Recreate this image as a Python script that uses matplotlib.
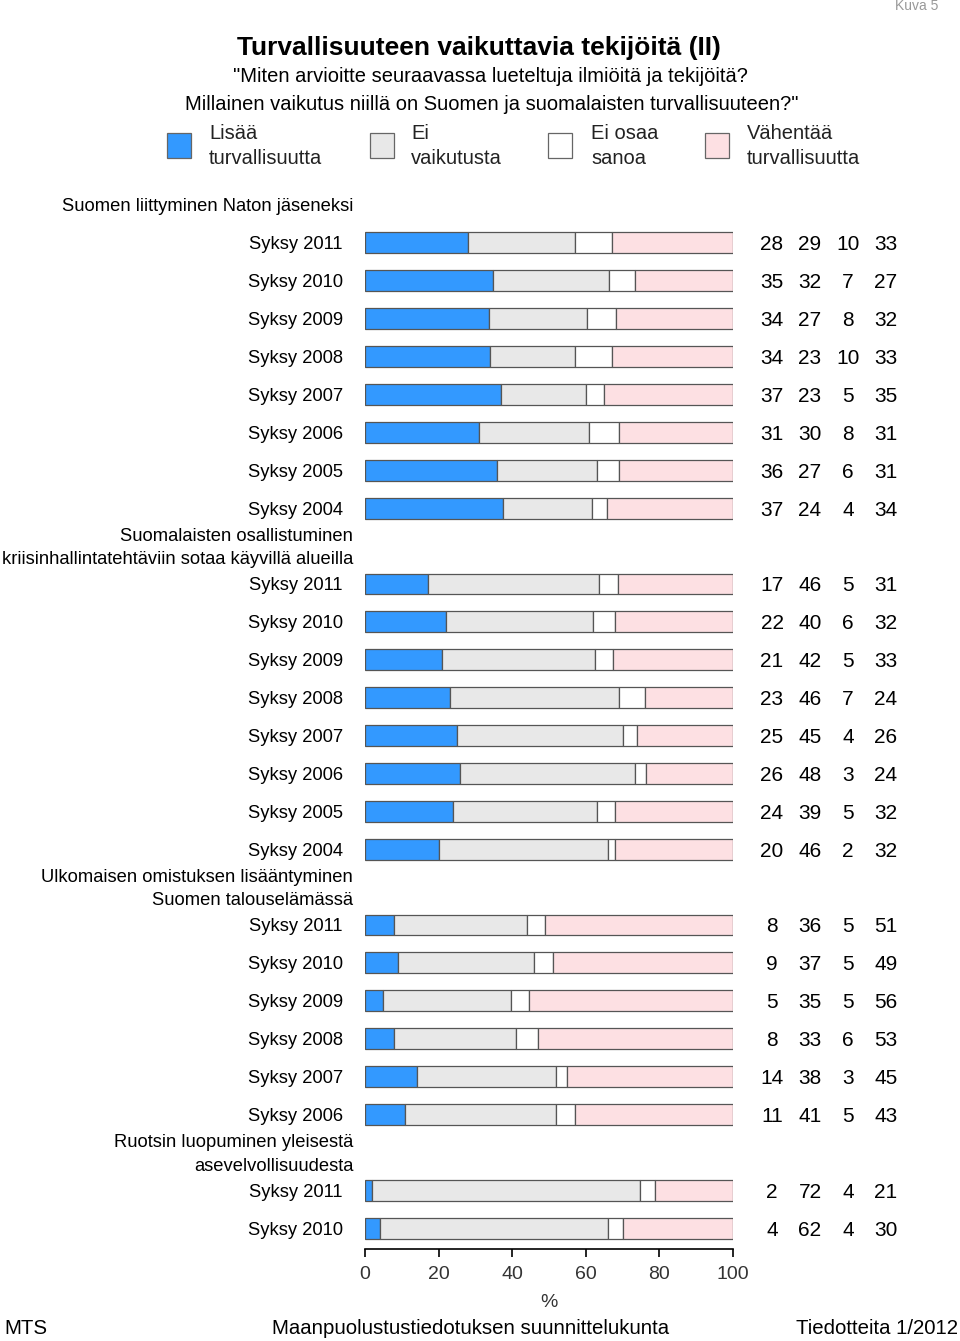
import matplotlib
matplotlib.use("Agg")
import matplotlib.pyplot as plt
import numpy as np

plt.rcParams["font.family"] = ["Liberation Sans", "DejaVu Sans"]

# Answer categories and colours
categories = ["Lisää\nturvallisuutta", "Ei\nvaikutusta", "Ei osaa\nsanoa", "Vähentää\nturvallisuutta"]
colors = ["#3399ff", "#e8e8e8", "#ffffff", "#fde0e3"]

# Question groups (header text, years, values per year: lisää, ei vaik., eos, vähentää)
headers = [
    "Suomen liittyminen Naton jäseneksi",
    "Suomalaisten osallistuminen\nkriisinhallintatehtäviin sotaa käyvillä alueilla",
    "Ulkomaisen omistuksen lisääntyminen\nSuomen talouselämässä",
    "Ruotsin luopuminen yleisestä\nasevelvollisuudesta",
]
years_nato = ["Syksy 2011", "Syksy 2010", "Syksy 2009", "Syksy 2008",
              "Syksy 2007", "Syksy 2006", "Syksy 2005", "Syksy 2004"]
vals_nato = [[28, 29, 10, 33], [35, 32, 7, 27], [34, 27, 8, 32], [34, 23, 10, 33],
             [37, 23, 5, 35], [31, 30, 8, 31], [36, 27, 6, 31], [37, 24, 4, 34]]

years_kriisi = ["Syksy 2011", "Syksy 2010", "Syksy 2009", "Syksy 2008",
                "Syksy 2007", "Syksy 2006", "Syksy 2005", "Syksy 2004"]
vals_kriisi = [[17, 46, 5, 31], [22, 40, 6, 32], [21, 42, 5, 33], [23, 46, 7, 24],
               [25, 45, 4, 26], [26, 48, 3, 24], [24, 39, 5, 32], [20, 46, 2, 32]]

years_omistus = ["Syksy 2011", "Syksy 2010", "Syksy 2009", "Syksy 2008",
                 "Syksy 2007", "Syksy 2006"]
vals_omistus = [[8, 36, 5, 51], [9, 37, 5, 49], [5, 35, 5, 56], [8, 33, 6, 53],
                [14, 38, 3, 45], [11, 41, 5, 43]]

years_ruotsi = ["Syksy 2011", "Syksy 2010"]
vals_ruotsi = [[2, 72, 4, 21], [4, 62, 4, 30]]

groups = [(years_nato, vals_nato), (years_kriisi, vals_kriisi),
          (years_omistus, vals_omistus), (years_ruotsi, vals_ruotsi)]

fig = plt.figure(figsize=(9.6, 13.41), dpi=100)
W, H = 960, 1341
ax = fig.add_axes([365 / W, 1 - 1249 / H, 368 / W, (1249 - 190) / H])

edge = "#555555"
dy = 0.05  # small downward nudge for text
slot = 0
for header, (years, vals) in zip(headers, groups):
    # header occupies one row slot
    ax.text(-3.2, slot + dy, header, ha="right", va="center", fontsize=13.2,
            linespacing=1.5, clip_on=False)
    slot += 1
    for year, row in zip(years, vals):
        row = np.array(row, dtype=float)
        shares = row / row.sum() * 100
        left = 0
        for c, w in zip(colors, shares):
            ax.barh(slot, w, left=left, height=0.55, color=c, edgecolor=edge,
                    linewidth=0.9)
            left += w
        ax.text(-6, slot + dy, year, ha="right", va="center", fontsize=13.2, clip_on=False)
        for k, v in enumerate(row):
            ax.text(110.6 + 10.33 * k, slot + dy, f"{int(v)}", ha="center", va="center",
                    fontsize=15, clip_on=False)
        slot += 1

ax.set_xlim(0, 100)
ax.set_ylim(slot - 0.45, -0.395)
for s in ["top", "right", "left"]:
    ax.spines[s].set_visible(False)
ax.spines["bottom"].set_linewidth(1.2)
ax.set_yticks([])
ax.set_xticks(np.arange(0, 101, 20))
ax.tick_params(axis="x", length=6, width=1.2, labelsize=14, pad=6, labelcolor="#333333")
ax.set_xlabel("%", fontsize=14, labelpad=8, color="#333333")

# Titles
fig.text(479 / W, 1 - 48 / H, "Turvallisuuteen vaikuttavia tekijöitä (II)", ha="center",
         va="center", fontsize=19, fontweight="bold")
fig.text(490 / W, 1 - 77 / H, "\"Miten arvioitte seuraavassa lueteltuja ilmiöitä ja tekijöitä?",
         ha="center", va="center", fontsize=14.5)
fig.text(492 / W, 1 - 105 / H,
         "Millainen vaikutus niillä on Suomen ja suomalaisten turvallisuuteen?\"",
         ha="center", va="center", fontsize=14.5)

# Legend
box_x = [167, 370, 548, 705]
text_x = [209, 411, 591, 747]
for bx, tx, c, lab in zip(box_x, text_x, colors, categories):
    fig.patches.append(plt.Rectangle((bx / W, 1 - 158 / H), 24 / W, 25 / H,
                                     transform=fig.transFigure, facecolor=c,
                                     edgecolor="#666666", linewidth=0.9))
    fig.text(tx / W, 1 - 146 / H, lab, ha="left", va="center", fontsize=14.5,
             linespacing=1.45, color="#222222")

fig.text(938 / W, 1 - 6 / H, "Kuva 5", ha="right", va="center", fontsize=10, color="#999999")

# Footer
fig.text(4 / W, 1 - 1329 / H, "MTS", ha="left", va="center", fontsize=14.7)
fig.text(471 / W, 1 - 1329 / H, "Maanpuolustustiedotuksen suunnittelukunta", ha="center",
         va="center", fontsize=14.7)
fig.text(958 / W, 1 - 1329 / H, "Tiedotteita 1/2012", ha="right", va="center", fontsize=14.7)

fig.savefig("out.png", dpi=100)
